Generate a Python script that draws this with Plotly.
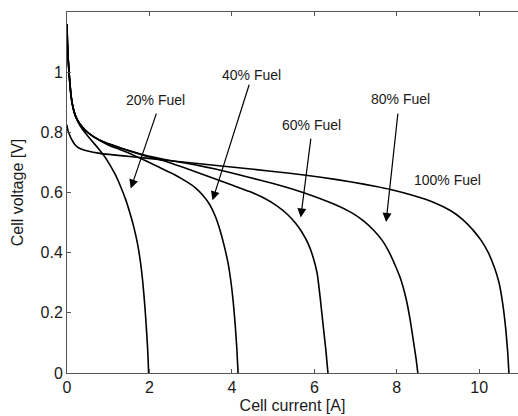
import plotly.graph_objects as go

# ---- data ----
series_names = ["20% Fuel", "40% Fuel", "60% Fuel", "80% Fuel", "100% Fuel"]

i20 = [0, 0.01, 0.03, 0.06, 0.1, 0.15, 0.21, 0.3, 0.45, 0.6, 0.75, 0.9, 1.04, 1.17, 1.3, 1.42, 1.53, 1.63, 1.71, 1.78, 1.84, 1.89, 1.93, 1.96, 1.98]
v20 = [1.16, 1.10, 1.04, 0.98, 0.92, 0.88, 0.853, 0.826, 0.797, 0.772, 0.748, 0.722, 0.692, 0.66, 0.62, 0.578, 0.53, 0.48, 0.43, 0.37, 0.30, 0.22, 0.14, 0.07, 0.0]

i40 = [0, 0.01, 0.03, 0.06, 0.1, 0.15, 0.21, 0.3, 0.45, 0.65, 1.0, 1.3, 1.6, 2.0, 2.25, 2.6, 2.9, 3.1, 3.3, 3.46, 3.6, 3.7, 3.8, 3.9, 3.97, 4.03, 4.08, 4.12, 4.15]
v40 = [1.16, 1.10, 1.04, 0.98, 0.92, 0.88, 0.853, 0.83, 0.806, 0.785, 0.758, 0.742, 0.725, 0.700, 0.683, 0.660, 0.636, 0.617, 0.590, 0.56, 0.52, 0.48, 0.43, 0.37, 0.31, 0.24, 0.16, 0.08, 0.0]

i60 = [0, 0.01, 0.03, 0.06, 0.1, 0.15, 0.21, 0.3, 0.45, 0.65, 0.94, 1.3, 1.6, 2.0, 2.4, 3.0, 3.5, 4.0, 4.43, 4.8, 5.1, 5.35, 5.55, 5.7, 5.85, 5.97, 6.07, 6.15, 6.22, 6.28, 6.33]
v60 = [1.16, 1.10, 1.04, 0.98, 0.92, 0.88, 0.853, 0.83, 0.806, 0.785, 0.765, 0.748, 0.735, 0.718, 0.703, 0.675, 0.650, 0.625, 0.603, 0.58, 0.555, 0.527, 0.497, 0.468, 0.43, 0.385, 0.33, 0.24, 0.15, 0.075, 0.0]

i80 = [0, 0.01, 0.03, 0.06, 0.1, 0.15, 0.21, 0.3, 0.45, 0.65, 0.94, 1.3, 1.6, 2.0, 2.4, 3.1, 3.6, 4.0, 4.43, 5.0, 5.5, 6.0, 6.5, 6.9, 7.2, 7.45, 7.65, 7.82, 7.97, 8.1, 8.22, 8.32, 8.41, 8.47, 8.51]
v80 = [1.16, 1.10, 1.04, 0.98, 0.92, 0.88, 0.853, 0.83, 0.806, 0.785, 0.765, 0.748, 0.735, 0.72, 0.709, 0.692, 0.678, 0.665, 0.65, 0.63, 0.61, 0.587, 0.56, 0.533, 0.505, 0.473, 0.44, 0.40, 0.355, 0.31, 0.25, 0.18, 0.10, 0.045, 0.0]

i100 = [0, 0.01, 0.05, 0.13, 0.2, 0.3, 0.5, 0.8, 1.8, 3.1, 4.4, 5.4, 6.2, 6.9, 7.5, 7.85, 8.4, 8.9, 9.3, 9.6, 9.85, 10.05, 10.22, 10.37, 10.48, 10.57, 10.64, 10.69, 10.72]
v100 = [0.825, 0.815, 0.795, 0.772, 0.758, 0.747, 0.738, 0.73, 0.716, 0.697, 0.679, 0.664, 0.65, 0.635, 0.62, 0.61, 0.59, 0.567, 0.54, 0.51, 0.475, 0.44, 0.40, 0.35, 0.30, 0.23, 0.15, 0.07, 0.0]

x_ticks = [0, 2, 4, 6, 8, 10]
y_ticks = [0, 0.2, 0.4, 0.6, 0.8, 1]
y_tick_labels = ["0", "0.2", "0.4", "0.6", "0.8", "1"]

# label text positions (data coords) and arrows (head, tail)
label_x = [2.14, 4.475, 5.92, 8.10, 9.22]
label_y = [0.908, 0.989, 0.826, 0.912, 0.640]
arrow_head_x = [1.546, 3.53, 5.67, 7.74]
arrow_head_y = [0.613, 0.574, 0.517, 0.502]
arrow_tail_x = [2.18, 4.43, 5.92, 8.03]
arrow_tail_y = [0.867, 0.963, 0.784, 0.867]

currents = [i20, i40, i60, i80, i100]
voltages = [v20, v40, v60, v80, v100]

FONT = "Liberation Sans, Arial, Helvetica, sans-serif"
AXIS_COLOR = "#555555"
TEXT_COLOR = "#1a1a1a"

fig = go.Figure()
for name, xs, ys in zip(series_names, currents, voltages):
    fig.add_trace(go.Scatter(
        x=xs, y=ys, mode="lines", name=name,
        line=dict(color="black", width=1.6, shape="spline", smoothing=0.5),
        showlegend=False, hoverinfo="skip",
    ))

annotations = []
for txt, lx, ly in zip(series_names, label_x, label_y):
    annotations.append(dict(
        x=lx, y=ly, xref="x", yref="y", text=txt, showarrow=False,
        font=dict(family=FONT, size=14, color=TEXT_COLOR),
    ))
for hx, hy, tx, ty in zip(arrow_head_x, arrow_head_y, arrow_tail_x, arrow_tail_y):
    annotations.append(dict(
        x=hx, y=hy, xref="x", yref="y", ax=tx, ay=ty, axref="x", ayref="y",
        text="", showarrow=True, arrowhead=2, arrowsize=1.5, arrowwidth=1.2,
        arrowcolor="black",
    ))

fig.update_layout(
    width=518, height=416,
    margin=dict(l=67, r=0, t=12, b=43, autoexpand=False),
    paper_bgcolor="white", plot_bgcolor="white",
    font=dict(family=FONT, size=16, color=TEXT_COLOR),
    annotations=annotations,
    xaxis=dict(
        range=[0, 10.94], tickvals=x_ticks, ticks="inside", ticklen=4,
        tickcolor=AXIS_COLOR, showline=True, linecolor=AXIS_COLOR, linewidth=1,
        mirror="ticks", showgrid=False, zeroline=False, automargin=False,
        tickfont=dict(size=16, color=TEXT_COLOR),
        title=dict(text="Cell current [A]", standoff=4, font=dict(size=16)),
    ),
    yaxis=dict(
        range=[0, 1.2], tickvals=y_ticks, ticktext=y_tick_labels,
        ticks="inside", ticklen=4, tickcolor=AXIS_COLOR,
        showline=True, linecolor=AXIS_COLOR, linewidth=1, mirror=False,
        showgrid=False, zeroline=False, automargin=False,
        tickfont=dict(size=16, color=TEXT_COLOR),
        title=dict(text="Cell voltage [V]", standoff=12, font=dict(size=16)),
    ),
    yaxis2=dict(
        overlaying="y", side="right", anchor="x", range=[0, 1.2],
        tickvals=y_ticks, ticks="inside", ticklen=4, tickcolor=AXIS_COLOR,
        showticklabels=False, showline=False, showgrid=False, zeroline=False,
        automargin=False,
    ),
)

fig.write_html(
    "out.html",
    config={"displayModeBar": False, "staticPlot": True},
    post_script="document.body.style.margin='0';document.body.style.overflow='hidden';",
)
